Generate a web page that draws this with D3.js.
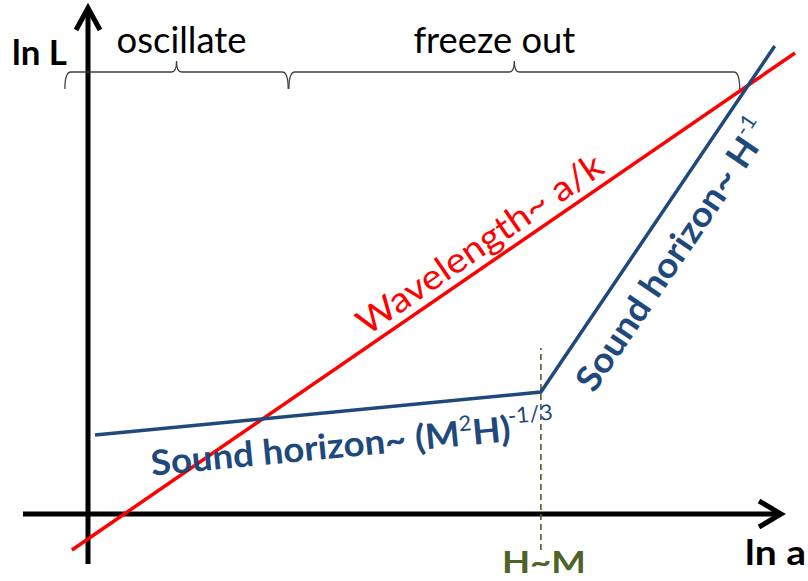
<!DOCTYPE html>
<html><head><meta charset="utf-8">
<script src="https://cdn.jsdelivr.net/npm/d3@7"></script>
<style>body{margin:0;background:#fff;} svg{display:block;}</style>
</head><body>
<svg id="c" width="808" height="581"></svg>
<script>
// ---- data (ln a, ln L in arbitrary schematic units) ----
const wavelengthX = [-0.23, 10.1];
const wavelengthY = [-0.72, 9.22];
const soundX = [0.1, 6.47, 9.81];
const soundY = [1.58, 2.44, 9.36];
const equalityX = 6.47;            // H ~ M
const dashY = [-0.72, 3.32];
const phaseNames = ["oscillate", "freeze out"];
const phaseStart = [-0.33, 2.87];
const phaseEnd = [2.86, 9.31];
const braceY = 8.84;
const axisLabels = ["ln L", "ln a"];
const eqLabel = "H~M";

// ---- layout ----
const x = d3.scaleLinear().domain([0, 10]).range([88, 788]);
const y = d3.scaleLinear().domain([0, 10]).range([514, 14]);
const svg = d3.select('#c');
const FONT = "Lato, 'Open Sans', sans-serif";
const RED = "#ff0000", BLUE = "#1f497d", OLIVE = "#4f6228";

// axes
const x0 = x(0), y0 = y(0);
const ax = svg.append('g').attr('stroke', '#000').attr('fill', 'none').attr('stroke-width', 5);
ax.append('line').attr('x1', x0 - 65).attr('x2', x0 + 690).attr('y1', y0).attr('y2', y0);
ax.append('path').attr('d', `M${x0+671},${y0-13}L${x0+693},${y0}L${x0+671},${y0+13}`);
ax.append('line').attr('x1', x0).attr('x2', x0).attr('y1', y0 + 50).attr('y2', 10);
ax.append('path').attr('d', `M${x0-12},30L${x0},8L${x0+12},30`);

// dashed H~M line
svg.append('line').attr('x1', x(equalityX)).attr('x2', x(equalityX))
  .attr('y1', y(dashY[0])).attr('y2', y(dashY[1]))
  .attr('stroke', OLIVE).attr('stroke-width', 1.6).attr('stroke-dasharray', '6,4');

// lines
const line = d3.line().x(d => x(d[0])).y(d => y(d[1]));
const wl = wavelengthX.map((v, i) => [v, wavelengthY[i]]);
const sh = soundX.map((v, i) => [v, soundY[i]]);
svg.append('path').attr('d', line(wl)).attr('stroke', RED).attr('stroke-width', 3.5).attr('fill', 'none');
svg.append('path').attr('d', line(sh)).attr('stroke', BLUE).attr('stroke-width', 3.5).attr('fill', 'none')
  .attr('stroke-linejoin', 'miter');

// braces
const by = y(braceY);
phaseNames.forEach((n, i) => {
  const a = x(phaseStart[i]), b = x(phaseEnd[i]), m = (a + b) / 2;
  const d = `M${a},${by+17}Q${a},${by} ${a+6},${by}L${m-5},${by}Q${m},${by} ${m},${by-11}` +
            `Q${m},${by} ${m+5},${by}L${b-6},${by}Q${b},${by} ${b},${by+17}`;
  svg.append('path').attr('d', d).attr('fill', 'none').attr('stroke', '#404040').attr('stroke-width', 1.3);
});

// text helpers
const tg = svg.append('g');
// build text at origin with a given font size, then squeeze horizontally to the target width
function place(build, size, target, tx, ty, deg) {
  const t = build(size);
  const w = t.node().getBBox().width;
  const sx = target / w;
  t.attr('transform', `translate(${tx},${ty}) rotate(${deg || 0}) scale(${sx},1)`);
  return t;
}
function along(p0, p1, tx, off) {
  const a = Math.atan2(p1[1] - p0[1], p1[0] - p0[0]);
  const t = (tx - p0[0]) / (p1[0] - p0[0]);
  const bx = p0[0] + t * (p1[0] - p0[0]), byy = p0[1] + t * (p1[1] - p0[1]);
  return { x: bx + off * Math.sin(a), y: byy - off * Math.cos(a), deg: a * 180 / Math.PI };
}
const px = p => [x(p[0]), y(p[1])];
const txt = (s, w, fill) => tg.append('text').attr('font-family', FONT).attr('font-size', s)
  .attr('font-weight', w).attr('fill', fill);

// phase labels
const phaseDx = [5, -20], phaseW = [130, 162];
phaseNames.forEach((n, i) => {
  const m = (x(phaseStart[i]) + x(phaseEnd[i])) / 2;
  place(s => txt(s, 400, '#000').attr('text-anchor', 'middle').text(n), 36, phaseW[i], m + phaseDx[i], 53);
});

// axis labels
place(s => txt(s, 700, '#000').text(axisLabels[0]), 35, 55, 12, 65);
place(s => txt(s, 700, '#000').text(axisLabels[1]), 35, 61, 745, 565);
place(s => txt(s, 700, OLIVE).attr('text-anchor', 'middle').text(eqLabel), 31, 84, x(equalityX) + 3, 573);

// wavelength label
{
  const p = along(px(wl[0]), px(wl[1]), 372, 9);
  place(s => txt(s, 400, RED).text('Wavelength~ a/k'), 35, 291, p.x, p.y, p.deg);
}
// lower sound horizon label
{
  const p = along(px(sh[0]), px(sh[1]), 147.5, -46);
  place(s => {
    const t = txt(s, 700, BLUE);
    t.append('tspan').text('Sound horizon~ (M');
    t.append('tspan').attr('font-size', s * 0.6).attr('font-weight', 400).attr('dy', -s * 0.42).text('2');
    t.append('tspan').attr('dy', s * 0.42).text('H)');
    t.append('tspan').attr('font-size', s * 0.62).attr('font-weight', 400).attr('dy', -s * 0.5).attr('dx', -s * 0.04).text('-1/3');
    return t;
  }, 35, 405, p.x, p.y, p.deg);
}
// steep sound horizon label
{
  const p = along(px(sh[1]), px(sh[2]), x(equalityX) + 15.7, -45);
  const s = 35;
  const t = txt(s, 700, BLUE).text('Sound horizon~ H');
  const w = t.node().getBBox().width, sx = 298 / w;
  t.append('tspan').attr('font-size', s * 0.6).attr('font-weight', 400).attr('dy', -s * 0.5).attr('dx', -s * 0.02).text('-1');
  t.attr('transform', `translate(${p.x},${p.y}) rotate(${p.deg}) scale(${sx},1)`);
}
</script>
</body></html>
